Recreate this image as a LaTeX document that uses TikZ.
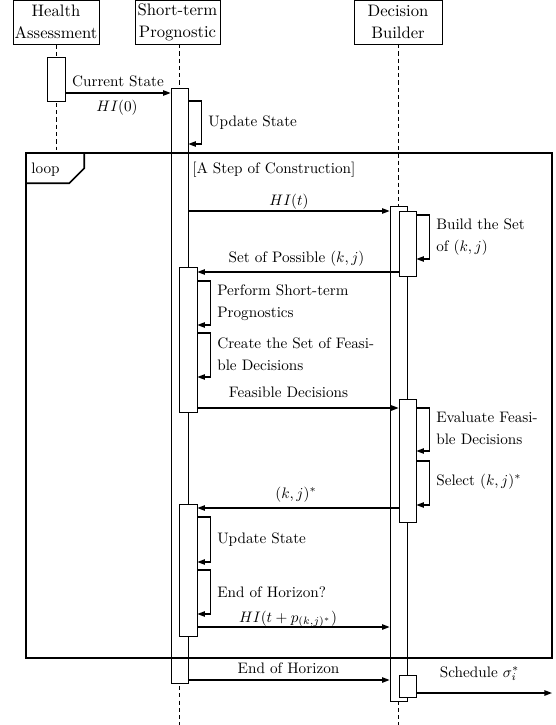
\documentclass[tikz,border=0pt]{standalone}
\usepackage{amsmath,amssymb}
\usepackage{tikz}
\usetikzlibrary{arrows.meta,fit,positioning}
\tikzset{
    actor/.style={
        draw, line width=0.6pt, fill=white, align=center,
        inner sep=0.5pt, minimum height=28.6pt,
        font=\fontsize{10.95}{12}\selectfont
    },
    actbox/.style={draw, line width=0.5pt, fill=white, inner sep=0pt},
    lifeline/.style={line width=0.6pt, dash pattern=on 2.8pt off 2pt},
    % message arrows
    msgarrow/.style={
        line width=0.8pt,
        ->,
        >={Triangle[length=5pt, width=3.6pt]}
    },
    msglabel/.style={inner sep=0pt, anchor=base},
    notelabel/.style={inner sep=0pt, anchor=base west},
    twolabel/.style={inner sep=0pt, anchor=west, align=left}
}
% self message on an activation box, from y=#2 down to y=#3
\newcommand{\selfmsg}[3]{%
    \draw[msgarrow] (#1.east |- 0,#2) -- ++(13,0) |- (#1.east |- 0,#3);}

\begin{document}
\begin{tikzpicture}[x=0.658pt, y=-0.658pt]
    \useasboundingbox (0,0) rectangle (556,725);

    % actors
    \node[actor, minimum width=56.6pt] (ha) at (56,22.3) {Health\\[2.5pt]Assessment};
    \node[actor, minimum width=55.9pt] (stp) at (177.5,22.3) {Short-term\\[2.5pt]Prognostic};
    \node[actor, minimum width=57.9pt] (db) at (398,22.3) {Decision\\[2.5pt]Builder};

    % lifelines
    \path (56,150) coordinate (haEnd)
          (179.5,44) coordinate (stpTop) (179.5,725) coordinate (stpEnd)
          (398.5,44) coordinate (dbTop) (398.5,725) coordinate (dbEnd);
    \draw[lifeline] (ha.south) -- (haEnd);
    \draw[lifeline] (stpTop) -- (stpEnd);
    \draw[lifeline] (dbTop) -- (dbEnd);

    % activations
    \node[actbox, fit={(47,57) (65,101)}] (haAct) {};
    \node[actbox, fit={(171,88) (188,683)}] (stpMain) {};
    \node[actbox, fit={(390,206) (407,701)}] (dbMain) {};
    \node[actbox, fit={(179,267) (197,412)}] (stpA) {};
    \node[actbox, fit={(179,504) (197,636)}] (stpB) {};
    \node[actbox, fit={(399,211) (416,276)}] (dbA) {};
    \node[actbox, fit={(399,399) (416,522)}] (dbB) {};
    \node[actbox, fit={(399,675) (416,697)}] (dbC) {};

    % loop frame
    \node[draw, line width=1pt, inner sep=0pt, fit={(26,153) (552,658)}] (loopFrame) {};
    \draw[line width=1pt] (loopFrame.north west) ++(0,31) -- ++(44,0) -- ++(15,-15) -- ++(0,-16);
    \node[notelabel] (loopTag) at (31,173) {loop};
    \node[notelabel] (loopGuard) at (192,173) {[A Step of Construction]};

    % messages
    \draw[msgarrow] (haAct.east |- 0,93) -- (stpMain.west |- 0,93);
    \node[msglabel] (lblCur) at (118,86) {Current State};
    \node[msglabel] (lblHIz) at (117,111) {$HI(0)$};
    \selfmsg{stpMain}{101}{144}
    \node[notelabel] (lblUpd) at (208,127) {Update State};

    \draw[msgarrow] (stpMain.east |- 0,211) -- (dbMain.west |- 0,211);
    \node[msglabel] (lblHIt) at (289,205) {$HI(t)$};
    \selfmsg{dbA}{215}{259}
    \node[twolabel] (lblBuild) at (436,237) {Build the Set\\[2.8pt]of $(k,j)$};

    \draw[msgarrow] (dbA.west |- 0,272) -- (stpA.east |- 0,272);
    \node[msglabel] (lblSet) at (296.5,262) {Set of Possible $(k,j)$};
    \selfmsg{stpA}{281}{325}
    \node[twolabel] (lblPerf) at (217,303) {Perform Short-term\\[2.5pt]Prognostics};
    \selfmsg{stpA}{333}{377}
    \node[twolabel] (lblCreate) at (217,354.7) {Create the Set of Feasi-\\[2.5pt]ble Decisions};

    \draw[msgarrow] (stpA.east |- 0,408) -- (dbB.west |- 0,408);
    \node[msglabel] (lblFeas) at (288.5,397) {Feasible Decisions};
    \selfmsg{dbB}{408}{451}
    \node[twolabel] (lblEval) at (436,428.7) {Evaluate Feasi-\\[2.5pt]ble Decisions};
    \selfmsg{dbB}{461}{505}
    \node[notelabel] (lblSel) at (436,485) {Select $(k,j)^*$};

    \draw[msgarrow] (dbB.west |- 0,508) -- (stpB.east |- 0,508);
    \node[msglabel] (lblKJ) at (296,498) {$(k,j)^*$};
    \selfmsg{stpB}{517}{562}
    \node[notelabel] (lblUpdB) at (217,543) {Update State};
    \selfmsg{stpB}{570}{614}
    \node[notelabel] (lblEnd) at (217,597) {End of Horizon?};

    \draw[msgarrow] (stpB.east |- 0,627) -- (dbMain.west |- 0,627);
    \node[msglabel] (lblHIp) at (288,622) {$HI(t+p_{(k,j)^*})$};
    \draw[msgarrow] (stpMain.east |- 0,680) -- (dbMain.west |- 0,680);
    \node[msglabel] (lblEoH) at (288.5,673) {End of Horizon};
    \coordinate (schedEnd) at (552,693);
    \draw[msgarrow] (dbC.east |- 0,693) -- (schedEnd);
    \node[msglabel] (lblSched) at (479.5,677) {Schedule $\sigma_i^*$};
\end{tikzpicture}
\end{document}
